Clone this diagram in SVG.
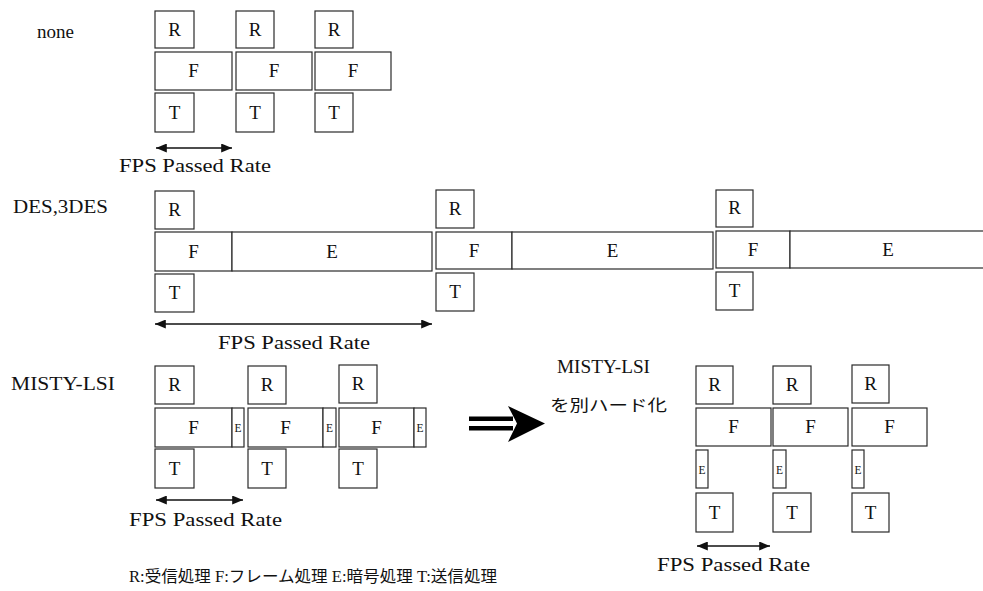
<svg xmlns="http://www.w3.org/2000/svg" width="983" height="591" viewBox="0 0 983 591">
<style>
.box{fill:#fff;stroke:#2a2a2a;stroke-width:1.2}
.t{font-family:"Liberation Serif","Times New Roman",serif;font-size:19px;fill:#111;text-anchor:middle}
.e{font-family:"Liberation Serif","Times New Roman",serif;font-size:13px;fill:#111;text-anchor:middle}
.lbl{font-family:"Liberation Serif","Times New Roman",serif;font-size:18px;fill:#111}
.cap{font-family:"Liberation Serif","Times New Roman",serif;font-size:18px;fill:#111}
.jp{font-family:"Liberation Serif","Noto Sans CJK JP",serif;font-size:16px;fill:#111}
.rate{stroke:#111;stroke-width:1.5;fill:none;marker-start:url(#ah);marker-end:url(#ah)}
</style>
<defs>
<marker id="ah" viewBox="0 0 12 10" refX="12" refY="5" markerWidth="12" markerHeight="9" markerUnits="userSpaceOnUse" orient="auto-start-reverse">
<path d="M0,0 L12,5 L0,10 z" fill="#111"/>
</marker>
</defs>
<rect width="983" height="591" fill="#fff"/>

<!-- labels -->
<g id="labels">
<text class="lbl" x="37" y="38" textLength="37" lengthAdjust="spacingAndGlyphs">none</text>
<text class="lbl" x="13" y="213" textLength="95" lengthAdjust="spacingAndGlyphs">DES,3DES</text>
<text class="lbl" x="11" y="390" textLength="104" lengthAdjust="spacingAndGlyphs">MISTY-LSI</text>
<text class="lbl" x="557" y="373" textLength="93" lengthAdjust="spacingAndGlyphs">MISTY-LSI</text>
<text class="jp" x="550" y="411" font-size="18" textLength="117" lengthAdjust="spacingAndGlyphs">を別ハード化</text>
<text class="jp" x="129" y="582" textLength="368" lengthAdjust="spacingAndGlyphs">R:受信処理 F:フレーム処理 E:暗号処理 T:送信処理</text>
</g>

<!-- row none -->
<g id="r1a"><rect class="box" x="155" y="11" width="39" height="37"/><text class="t" x="174.5" y="36">R</text></g>
<g id="r1b"><rect class="box" x="236" y="11" width="38" height="37"/><text class="t" x="255" y="36">R</text></g>
<g id="r1c"><rect class="box" x="315" y="11" width="38" height="37"/><text class="t" x="334" y="36">R</text></g>
<g id="f1a"><rect class="box" x="155" y="52" width="77" height="38"/><text class="t" x="193.5" y="77">F</text></g>
<g id="f1b"><rect class="box" x="236" y="52" width="76" height="38"/><text class="t" x="274" y="77">F</text></g>
<g id="f1c"><rect class="box" x="315" y="52" width="76" height="38"/><text class="t" x="353" y="77">F</text></g>
<g id="t1a"><rect class="box" x="155" y="93" width="39" height="39"/><text class="t" x="174.5" y="119">T</text></g>
<g id="t1b"><rect class="box" x="236" y="93" width="38" height="39"/><text class="t" x="255" y="119">T</text></g>
<g id="t1c"><rect class="box" x="315" y="93" width="38" height="39"/><text class="t" x="334" y="119">T</text></g>
<g id="cap1"><text class="cap" x="119" y="172" textLength="152" lengthAdjust="spacingAndGlyphs">FPS Passed Rate</text></g>

<!-- row DES -->
<g id="r2a"><rect class="box" x="155" y="191" width="39" height="38"/><text class="t" x="174.5" y="216">R</text></g>
<g id="r2b"><rect class="box" x="436" y="190" width="38" height="38"/><text class="t" x="455" y="215">R</text></g>
<g id="r2c"><rect class="box" x="716" y="190" width="37" height="37"/><text class="t" x="734.5" y="214">R</text></g>
<g id="f2a"><rect class="box" x="155" y="232" width="77" height="39"/><text class="t" x="193.5" y="258">F</text></g>
<g id="e2a"><rect class="box" x="232" y="232" width="200" height="39"/><text class="t" x="332" y="258">E</text></g>
<g id="f2b"><rect class="box" x="436" y="232" width="76" height="37"/><text class="t" x="474" y="257">F</text></g>
<g id="e2b"><rect class="box" x="512" y="232" width="201" height="37"/><text class="t" x="612.5" y="257">E</text></g>
<g id="f2c"><rect class="box" x="716" y="231" width="74" height="37"/><text class="t" x="753" y="256">F</text></g>
<g id="e2c"><rect class="box" x="790" y="231" width="210" height="37"/><text class="t" x="888" y="256">E</text></g>
<g id="t2a"><rect class="box" x="155" y="274" width="39" height="38"/><text class="t" x="174.5" y="299">T</text></g>
<g id="t2b"><rect class="box" x="436" y="273" width="38" height="38"/><text class="t" x="455" y="298">T</text></g>
<g id="t2c"><rect class="box" x="716" y="272" width="37" height="38"/><text class="t" x="734.5" y="297">T</text></g>
<g id="cap2"><text class="cap" x="218" y="349" textLength="152" lengthAdjust="spacingAndGlyphs">FPS Passed Rate</text></g>

<!-- row MISTY left -->
<g id="r3a"><rect class="box" x="155" y="366" width="39" height="38"/><text class="t" x="174.5" y="391">R</text></g>
<g id="r3b"><rect class="box" x="248" y="366" width="38" height="38"/><text class="t" x="267" y="391">R</text></g>
<g id="r3c"><rect class="box" x="339" y="365" width="38" height="38"/><text class="t" x="358" y="390">R</text></g>
<g id="f3a"><rect class="box" x="155" y="408" width="77" height="39"/><text class="t" x="193.5" y="434">F</text></g>
<g id="e3a"><rect class="box" x="232" y="408" width="12" height="39"/><text class="e" x="238" y="432" textLength="7" lengthAdjust="spacingAndGlyphs">E</text></g>
<g id="f3b"><rect class="box" x="248" y="408" width="75" height="39"/><text class="t" x="285.5" y="434">F</text></g>
<g id="e3b"><rect class="box" x="323" y="408" width="13" height="39"/><text class="e" x="329.5" y="432" textLength="7" lengthAdjust="spacingAndGlyphs">E</text></g>
<g id="f3c"><rect class="box" x="339" y="408" width="75" height="39"/><text class="t" x="376.5" y="434">F</text></g>
<g id="e3c"><rect class="box" x="414" y="408" width="12" height="39"/><text class="e" x="420" y="432" textLength="7" lengthAdjust="spacingAndGlyphs">E</text></g>
<g id="t3a"><rect class="box" x="155" y="449" width="39" height="39"/><text class="t" x="174.5" y="475">T</text></g>
<g id="t3b"><rect class="box" x="248" y="449" width="38" height="39"/><text class="t" x="267" y="475">T</text></g>
<g id="t3c"><rect class="box" x="339" y="449" width="38" height="39"/><text class="t" x="358" y="475">T</text></g>
<g id="cap3"><text class="cap" x="129" y="526" textLength="153" lengthAdjust="spacingAndGlyphs">FPS Passed Rate</text></g>

<!-- row MISTY right -->
<g id="r4a"><rect class="box" x="696" y="366" width="37" height="38"/><text class="t" x="714.5" y="391">R</text></g>
<g id="r4b"><rect class="box" x="773" y="366" width="38" height="38"/><text class="t" x="792" y="391">R</text></g>
<g id="r4c"><rect class="box" x="852" y="365" width="37" height="38"/><text class="t" x="870.5" y="390">R</text></g>
<g id="f4a"><rect class="box" x="696" y="408" width="75" height="38"/><text class="t" x="733.5" y="433">F</text></g>
<g id="f4b"><rect class="box" x="773" y="408" width="75" height="38"/><text class="t" x="810.5" y="433">F</text></g>
<g id="f4c"><rect class="box" x="852" y="408" width="75" height="38"/><text class="t" x="889.5" y="433">F</text></g>
<g id="e4a"><rect class="box" x="696" y="450" width="12" height="38"/><text class="e" x="702" y="474" textLength="7" lengthAdjust="spacingAndGlyphs">E</text></g>
<g id="e4b"><rect class="box" x="773" y="450" width="13" height="38"/><text class="e" x="779.5" y="474" textLength="7" lengthAdjust="spacingAndGlyphs">E</text></g>
<g id="e4c"><rect class="box" x="852" y="450" width="12" height="38"/><text class="e" x="858" y="474" textLength="7" lengthAdjust="spacingAndGlyphs">E</text></g>
<g id="t4a"><rect class="box" x="696" y="493" width="37" height="39"/><text class="t" x="714.5" y="519">T</text></g>
<g id="t4b"><rect class="box" x="773" y="493" width="38" height="39"/><text class="t" x="792" y="519">T</text></g>
<g id="t4c"><rect class="box" x="852" y="493" width="37" height="39"/><text class="t" x="870.5" y="519">T</text></g>
<g id="cap4"><text class="cap" x="657" y="571" textLength="153" lengthAdjust="spacingAndGlyphs">FPS Passed Rate</text></g>

<!-- connectors -->
<g id="connectors">
<line class="rate" x1="156" y1="148" x2="232" y2="148"/>
<line class="rate" x1="155" y1="324" x2="432" y2="324"/>
<line class="rate" x1="156" y1="500" x2="243" y2="500"/>
<line class="rate" x1="697" y1="546" x2="770" y2="546"/>
<g id="bigarrow" fill="#000">
<rect x="469" y="416.5" width="44" height="4.5"/>
<rect x="469" y="426" width="44" height="4.5"/>
<polygon points="508,406 545,423.5 508,442 517,423.5"/>
</g>
</g>
</svg>
